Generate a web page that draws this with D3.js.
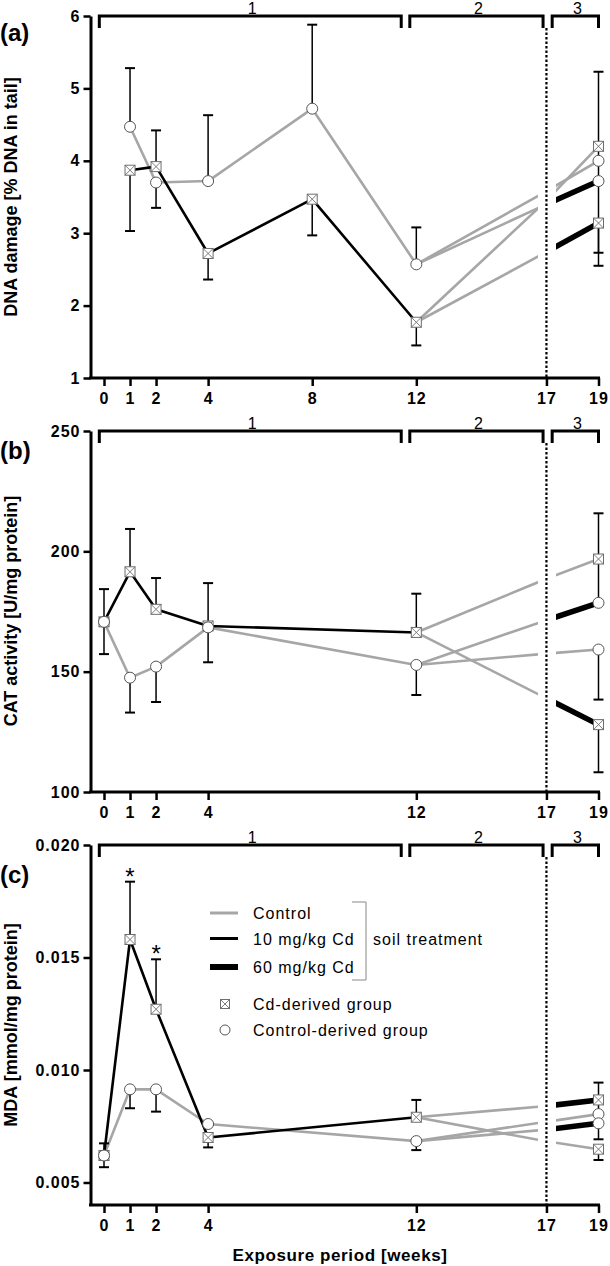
<!DOCTYPE html>
<html><head><meta charset="utf-8">
<script src="https://cdn.jsdelivr.net/npm/d3@7"></script>
<style>
body{margin:0;background:#fff;}
svg text{font-family:"Liberation Sans",Arial,Helvetica,sans-serif;}
</style></head><body>
<svg id="chart" width="610" height="1266"></svg>
<script>
// ---------------- DATA ----------------
const tickWeeksA = [0, 1, 2, 4, 8, 12, 17, 19];
const tickWeeksBC = [0, 1, 2, 4, 12, 17, 19];
const yTicksA = [1, 2, 3, 4, 5, 6];
const yTicksB = [100, 150, 200, 250];
const yTicksC = [0.005, 0.010, 0.015, 0.020];
const periodLabels = ["1", "2", "3"];
const periodSpans = [[-0.18, 11.42], [11.75, 16.87], [17.22, 19.0]];
const lateWeeks = [12, 17, 19];

// Panel (a) DNA damage
const weeksA = [1, 2, 4, 8, 12];
const cdDerivedA = [3.87, 3.92, 2.72, 3.47, 1.77];
const cdDerivedErrA = [3.03, 4.42, 2.36, 2.97, 1.45];
const ctrlDerivedA = [4.47, 3.70, 3.72, 4.72, 2.57];
const ctrlDerivedErrA = [5.28, 3.35, 4.63, 5.88, 3.08];
const cdToCtrlA = [1.77, 3.45, 4.20];   const cdToCtrlErrA = [5.23];
const ctrlToCtrlA = [2.57, 3.58, 4.00]; const ctrlToCtrlErrA = [4.18, 3.74];
const ctrlTo60A = [2.57, 3.40, 3.72];   const ctrlTo60ErrA = [2.55];
const cdTo60A = [1.77, 2.74, 3.14];     const cdTo60ErrA = [2.73];

// Panel (b) CAT activity
const weeksB = [0, 1, 2, 4, 12];
const cdDerivedB = [170.7, 191.5, 175.9, 169.0, 166.3];
const cdDerivedErrB = [184.3, 209.3, 188.9, 186.8, 182.4];
const ctrlDerivedB = [170.7, 147.5, 152.1, 168.4, 152.8];
const ctrlDerivedErrB = [157.3, 133.0, 137.4, 153.9, 140.3];
const cdToCtrlB = [166.3, 188.6, 196.8];   const cdToCtrlErrB = [215.8];
const ctrlToCtrlB = [152.8, 157.5, 159.2]; const ctrlToCtrlErrB = [138.4];
const ctrlTo60B = [152.8, 171.4, 178.6];   const ctrlTo60ErrB = [196.0];
const cdTo60B = [166.3, 138.9, 128.0];     const cdTo60ErrB = [108.2];

// Panel (c) MDA
const weeksC = [0, 1, 2, 4, 12];
const cdDerivedC = [0.0062, 0.0158, 0.0127, 0.0070, 0.0079];
const cdDerivedErrC = [0.00674, 0.01837, 0.01492, 0.00656, 0.00867];
const ctrlDerivedC = [0.0062, 0.00914, 0.00914, 0.0076, 0.00684];
const ctrlDerivedErrC = [0.00568, 0.0083, 0.00815, null, 0.00644];
const cdToCtrlC = [0.0079, 0.00683, 0.00648];   const cdToCtrlErrC = [0.0060];
const ctrlToCtrlC = [0.00684, 0.0077, 0.00804]; const ctrlToCtrlErrC = [0.0086, 0.00765];
const ctrlTo60C = [0.00684, 0.00735, 0.00763];  const ctrlTo60ErrC = [0.00692];
const cdTo60C = [0.0079, 0.0084, 0.00867];      const cdTo60ErrC = [0.00944];
const significantWeeksC = [1, 2];

const legendLines = ["Control", "10 mg/kg Cd", "60 mg/kg Cd"];
const legendMarkers = ["Cd-derived group", "Control-derived group"];

// ---------------- STYLE ----------------
const GRAY = "#a6a6a6", BLACK = "#000";
const W_GRAY = 2.6, W_BLACK = 2.6, W_THICK = 5.5;
const X0 = 104, X19 = 598.5, YAX = 90.5;
const svg = d3.select("#chart");
const x = d3.scaleLinear().domain([0, 19]).range([X0, X19]);

function drawSquare(g, cx, cy, s) {
  const h = s / 2;
  g.append("rect").attr("x", cx - h).attr("y", cy - h).attr("width", s).attr("height", s)
    .attr("fill", "#fff").attr("stroke", "#6e6e6e").attr("stroke-width", 1);
  g.append("path").attr("d", `M${cx-h},${cy-h}L${cx+h},${cy+h}M${cx+h},${cy-h}L${cx-h},${cy+h}`)
    .attr("stroke", "#6e6e6e").attr("stroke-width", 0.9);
}
function drawCircle(g, cx, cy, r) {
  g.append("circle").attr("cx", cx).attr("cy", cy).attr("r", r)
    .attr("fill", "#fff").attr("stroke", "#555").attr("stroke-width", 1);
}

function drawPanel(p, idx) {
  const g = svg.append("g");
  const y = d3.scaleLinear().domain(p.ydom).range([p.yb, p.yt]);
  const clipId2 = "c2_" + idx, clipId3 = "c3_" + idx;
  const defs = g.append("defs");
  defs.append("clipPath").attr("id", clipId2).append("rect")
    .attr("x", x(11)).attr("y", p.yt).attr("width", x(17) - 8.5 - x(11)).attr("height", p.yb - p.yt);
  defs.append("clipPath").attr("id", clipId3).append("rect")
    .attr("x", x(17) + 9.5).attr("y", p.yt).attr("width", 60).attr("height", p.yb - p.yt);

  // axes
  g.append("line").attr("x1", YAX - 1.5).attr("x2", X19 + 1.5).attr("y1", p.yb).attr("y2", p.yb)
    .attr("stroke", "#000").attr("stroke-width", 3);
  const xa = g.append("g").attr("transform", `translate(0,${p.yb})`)
    .call(d3.axisBottom(x).tickValues(p.xticks).tickSize(8).tickSizeOuter(0).tickPadding(7).tickFormat(d3.format("d")));
  xa.select(".domain").remove();
  xa.selectAll(".tick line").attr("stroke", "#000").attr("stroke-width", 2.5);
  xa.selectAll(".tick text").attr("fill", "#000").style("font-size", "16px").style("font-weight", "bold")
    .style("letter-spacing", "1px").style("font-family", '"Liberation Sans",Arial,sans-serif');
  const ya = g.append("g").attr("transform", `translate(${YAX},0)`)
    .call(d3.axisLeft(y).tickValues(p.yticks).tickSize(7).tickSizeOuter(0).tickPadding(3).tickFormat(p.fmt));
  ya.select(".domain").attr("stroke", "#000").attr("stroke-width", 3);
  ya.selectAll(".tick line").attr("stroke", "#000").attr("stroke-width", 2.5);
  ya.selectAll(".tick text").attr("fill", "#000").style("font-size", "16px").style("font-weight", "bold")
    .style("letter-spacing", "1px").style("font-family", '"Liberation Sans",Arial,sans-serif');

  // titles
  g.append("text").attr("transform", `translate(17,${p.titleCy}) rotate(-90)`).attr("text-anchor", "middle")
    .style("font-size", "18px").style("font-weight", "bold").text(p.title);
  g.append("text").attr("x", 0).attr("y", p.labelY).style("font-size", "24px").style("font-weight", "bold").text(p.label);

  // period brackets
  periodSpans.forEach((s, i) => {
    const x1 = x(s[0]), x2 = x(s[1]);
    g.append("path").attr("d", `M${x1},${p.yt + 12}V${p.yt}H${x2}V${p.yt + 12}`)
      .attr("fill", "none").attr("stroke", "#000").attr("stroke-width", 3);
    g.append("text").attr("x", (x1 + x2) / 2 + 2).attr("y", p.yt - 2.5).attr("text-anchor", "middle")
      .style("font-size", "16px").text(periodLabels[i]);
  });
  // dotted separator
  g.append("line").attr("x1", x(17)).attr("x2", x(17)).attr("y1", p.yt + 12).attr("y2", p.yb)
    .attr("stroke", "#000").attr("stroke-width", 2.2).attr("stroke-dasharray", "2.5,2");

  const line = d3.line().x(d => x(d[0])).y(d => y(d[1]));
  const ctrlPts = p.weeks.map((w, i) => [w, p.ctrl[i]]);
  const cdPts = p.weeks.map((w, i) => [w, p.cd[i]]);
  // late lines (periods 2 and 3)
  p.late.forEach(L => {
    const pts = lateWeeks.map((w, i) => [w, L.vals[i]]);
    g.append("path").attr("d", line(pts.slice(0, 2))).attr("clip-path", `url(#${clipId2})`)
      .attr("fill", "none").attr("stroke", GRAY).attr("stroke-width", W_GRAY);
    g.append("path").attr("d", line(pts.slice(1, 3))).attr("clip-path", `url(#${clipId3})`)
      .attr("fill", "none").attr("stroke", L.thick ? BLACK : GRAY).attr("stroke-width", L.thick ? W_THICK : W_GRAY);
  });
  // period 1 lines
  g.append("path").attr("d", line(ctrlPts)).attr("fill", "none").attr("stroke", GRAY).attr("stroke-width", W_GRAY).attr("stroke-linejoin", "round");
  g.append("path").attr("d", line(cdPts)).attr("fill", "none").attr("stroke", BLACK).attr("stroke-width", W_BLACK).attr("stroke-linejoin", "round");

  // error bars
  const errs = [];
  p.weeks.forEach((w, i) => {
    if (p.cdErr[i] != null) errs.push([w, p.cd[i], p.cdErr[i]]);
    if (p.ctrlErr[i] != null) errs.push([w, p.ctrl[i], p.ctrlErr[i]]);
  });
  p.late.forEach(L => L.err.forEach(e => errs.push([19, L.vals[2], e])));
  errs.forEach(([w, v, e]) => {
    g.append("line").attr("x1", x(w)).attr("x2", x(w)).attr("y1", y(v)).attr("y2", y(e))
      .attr("stroke", "#000").attr("stroke-width", 1.5);
    g.append("line").attr("x1", x(w) - 5).attr("x2", x(w) + 5).attr("y1", y(e)).attr("y2", y(e))
      .attr("stroke", "#000").attr("stroke-width", 2);
  });
  // significance asterisks
  (p.stars || []).forEach(w => {
    const i = p.weeks.indexOf(w);
    g.append("text").attr("x", x(w)).attr("y", y(p.cdErr[i]) + 3).attr("text-anchor", "middle")
      .style("font-size", "24px").text("*");
  });

  // markers: squares then circles
  cdPts.forEach(d => drawSquare(g, x(d[0]), y(d[1]), 10));
  p.late.filter(L => L.sq).forEach(L => drawSquare(g, x(19), y(L.vals[2]), 10));
  ctrlPts.forEach(d => drawCircle(g, x(d[0]), y(d[1]), 5.5));
  p.late.filter(L => !L.sq).forEach(L => drawCircle(g, x(19), y(L.vals[2]), 5.5));
}

const panels = [
  { yt: 16, yb: 378, ydom: [1, 6], yticks: yTicksA, xticks: tickWeeksA, fmt: d3.format("d"),
    title: "DNA damage [% DNA in tail]", titleCy: 197, label: "(a)", labelY: 41,
    weeks: weeksA, cd: cdDerivedA, cdErr: cdDerivedErrA, ctrl: ctrlDerivedA, ctrlErr: ctrlDerivedErrA,
    late: [
      { vals: cdToCtrlA, err: cdToCtrlErrA, thick: false, sq: true },
      { vals: ctrlToCtrlA, err: ctrlToCtrlErrA, thick: false, sq: false },
      { vals: ctrlTo60A, err: ctrlTo60ErrA, thick: true, sq: false },
      { vals: cdTo60A, err: cdTo60ErrA, thick: true, sq: true }] },
  { yt: 431, yb: 792, ydom: [100, 250], yticks: yTicksB, xticks: tickWeeksBC, fmt: d3.format("d"),
    title: "CAT activity [U/mg protein]", titleCy: 611, label: "(b)", labelY: 459,
    weeks: weeksB, cd: cdDerivedB, cdErr: cdDerivedErrB, ctrl: ctrlDerivedB, ctrlErr: ctrlDerivedErrB,
    late: [
      { vals: cdToCtrlB, err: cdToCtrlErrB, thick: false, sq: true },
      { vals: ctrlToCtrlB, err: ctrlToCtrlErrB, thick: false, sq: false },
      { vals: ctrlTo60B, err: ctrlTo60ErrB, thick: true, sq: false },
      { vals: cdTo60B, err: cdTo60ErrB, thick: true, sq: true }] },
  { yt: 845, yb: 1205, ydom: [0.004, 0.020], yticks: yTicksC, xticks: tickWeeksBC, fmt: d3.format(".3f"),
    title: "MDA [mmol/mg protein]", titleCy: 1025, label: "(c)", labelY: 883,
    weeks: weeksC, cd: cdDerivedC, cdErr: cdDerivedErrC, ctrl: ctrlDerivedC, ctrlErr: ctrlDerivedErrC,
    stars: significantWeeksC,
    late: [
      { vals: cdToCtrlC, err: cdToCtrlErrC, thick: false, sq: true },
      { vals: ctrlToCtrlC, err: ctrlToCtrlErrC, thick: false, sq: false },
      { vals: ctrlTo60C, err: ctrlTo60ErrC, thick: true, sq: false },
      { vals: cdTo60C, err: cdTo60ErrC, thick: true, sq: true }] }
];
panels.forEach(drawPanel);

// x title
svg.append("text").attr("x", 340).attr("y", 1261).attr("text-anchor", "middle")
  .style("font-size", "17px").style("font-weight", "bold").style("letter-spacing", "0.6px")
  .text("Exposure period [weeks]");

// legend
const lg = svg.append("g");
const lineStyles = [[GRAY, 3], [BLACK, 3], [BLACK, 6]];
const lineYs = [913, 938.5, 967];
legendLines.forEach((t, i) => {
  lg.append("line").attr("x1", 210).attr("x2", 238).attr("y1", lineYs[i]).attr("y2", lineYs[i])
    .attr("stroke", lineStyles[i][0]).attr("stroke-width", lineStyles[i][1]);
  lg.append("text").attr("x", 253).attr("y", lineYs[i] + 6).style("font-size", "16px")
    .style("letter-spacing", "1px").text(t);
});
lg.append("path").attr("d", "M352,902H366V980H352").attr("fill", "none").attr("stroke", "#888").attr("stroke-width", 1);
lg.append("text").attr("x", 373).attr("y", 945).style("font-size", "16px").style("letter-spacing", "1px").text("soil treatment");
drawSquare(lg, 225, 1004, 9);
drawCircle(lg, 225, 1030, 5);
lg.append("text").attr("x", 253).attr("y", 1010).style("font-size", "16px").style("letter-spacing", "1px").text(legendMarkers[0]);
lg.append("text").attr("x", 253).attr("y", 1036).style("font-size", "16px").style("letter-spacing", "1px").text(legendMarkers[1]);
</script>
</body></html>
